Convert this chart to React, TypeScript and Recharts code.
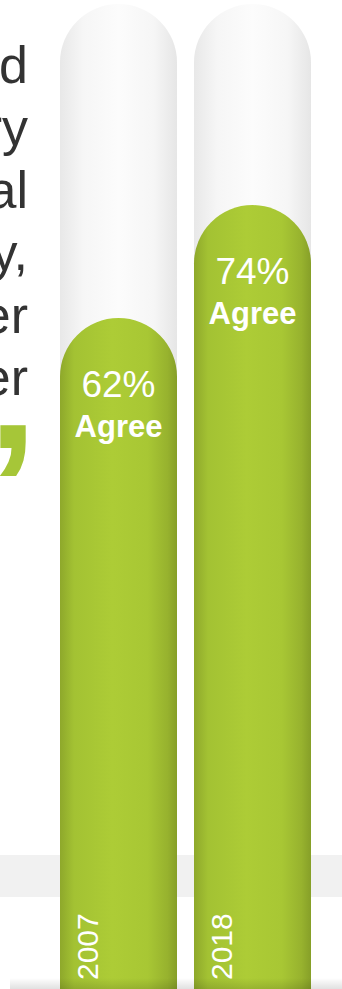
import React from 'react';
import { BarChart, Bar, XAxis, YAxis, LabelList } from 'recharts';

const years = ['2007', '2018'];
const agreeValues = [62, 74];
const agreeWord = 'Agree';
const quoteTail = ['ad', 'ry', 'al', 'y,', 'er', 'er'];
const closingQuote = '\u201D';

const AXIS_MIN = -9.26;
const AXIS_MAX = 95.35;

const data = years.map((year, i) => ({ year, agree: agreeValues[i] }));

const W = 342;
const H = 989;
const SANS = "'Liberation Sans', Arial, Helvetica, sans-serif";
const NARROW = "'Liberation Sans Narrow', 'Arial Narrow', 'Liberation Sans', Arial, sans-serif";

function pillPath(x: number, y: number, w: number, h: number) {
  const r = w / 2;
  return `M${x},${y + h} L${x},${y + r} A${r},${r} 0 0 1 ${x + w},${y + r} L${x + w},${y + h} Z`;
}

const TrackShape = (props: any) => {
  const { x, y, width, height } = props;
  return <path d={pillPath(x, y, width, height)} fill="url(#trackGrad)" />;
};

const BarShape = (props: any) => {
  const { x, y, width, height } = props;
  return <path d={pillPath(x, y, width, height)} fill="url(#barGrad)" />;
};

const renderLabels = (props: any) => {
  const { x, y, width, height, index } = props;
  const cx = x + width / 2;
  const bx = x + 37.5;
  const by = y + height - 9;
  return (
    <g>
      <text x={cx} y={y + 79} textAnchor="middle" fill="#ffffff" fontSize={37} fontFamily={SANS}>
        {`${agreeValues[index]}%`}
      </text>
      <text x={cx} y={y + 119} textAnchor="middle" fill="#ffffff" fontSize={31} fontWeight="bold" fontFamily={SANS}>
        {agreeWord}
      </text>
      <text x={bx} y={by} transform={`rotate(-90 ${bx} ${by})`} textAnchor="start" fill="#ffffff" fontSize={30} fontFamily={SANS}>
        {years[index]}
      </text>
    </g>
  );
};

export default function App() {
  return (
    <div style={{ position: 'absolute', left: 0, top: 0, width: W, height: H, overflow: 'hidden', background: '#ffffff' }}>
      <div style={{ position: 'absolute', left: 0, top: 855, width: W, height: 42, background: '#f1f1f1' }} />
      <div style={{ position: 'absolute', left: 0, top: 0 }}>
        <BarChart width={W} height={H} data={data} margin={{ top: 4, right: 0, bottom: 0, left: 0 }} barSize={117}>
          <defs>
            <linearGradient id="trackGrad" x1="0" y1="0" x2="1" y2="0">
              <stop offset="0" stopColor="#e8e8e8" />
              <stop offset="0.2" stopColor="#f6f6f6" />
              <stop offset="0.5" stopColor="#fcfcfc" />
              <stop offset="0.8" stopColor="#f6f6f6" />
              <stop offset="1" stopColor="#e6e6e6" />
            </linearGradient>
            <linearGradient id="barGrad" x1="0" y1="0" x2="1" y2="0">
              <stop offset="0" stopColor="#8ea82b" />
              <stop offset="0.12" stopColor="#a3c233" />
              <stop offset="0.45" stopColor="#adcc36" />
              <stop offset="0.75" stopColor="#a8c734" />
              <stop offset="0.92" stopColor="#97b22e" />
              <stop offset="1" stopColor="#869f28" />
            </linearGradient>
          </defs>
          <XAxis dataKey="year" type="category" hide padding={{ left: 51, right: 23 }} />
          <YAxis type="number" hide domain={[AXIS_MIN, AXIS_MAX]} allowDataOverflow />
          <Bar
            dataKey={(d: any) => [AXIS_MIN, d.agree]}
            isAnimationActive={false}
            shape={BarShape}
            background={TrackShape}
          >
            <LabelList content={renderLabels} />
          </Bar>
        </BarChart>
      </div>
      <svg width={W} height={H} style={{ position: 'absolute', left: 0, top: 0, pointerEvents: 'none' }}>
        <defs>
          <linearGradient id="bottomShadow" x1="0" y1="0" x2="0" y2="1">
            <stop offset="0" stopColor="#000" stopOpacity="0" />
            <stop offset="1" stopColor="#000" stopOpacity="0.12" />
          </linearGradient>
        </defs>
        <rect x={10} y={978} width={332} height={11} fill="url(#bottomShadow)" />
        {quoteTail.map((t, i) => (
          <text key={i} x={28} y={83 + i * 62.4} textAnchor="end" fill="#333333" fontSize={52} fontFamily={NARROW}>
            {t}
          </text>
        ))}
        <text x={39} y={549} textAnchor="end" fill="#a6c638" fontSize={180} fontWeight="bold" fontFamily={SANS}>
          {closingQuote}
        </text>
      </svg>
    </div>
  );
}
